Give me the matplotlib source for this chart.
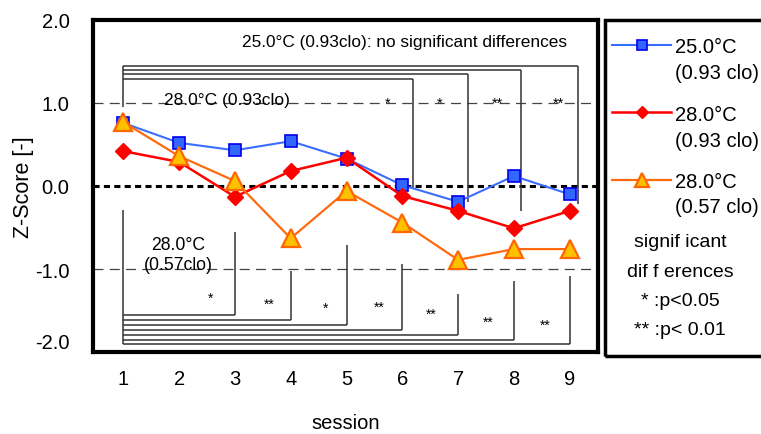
import matplotlib
matplotlib.use('Agg')
import matplotlib.pyplot as plt
from matplotlib.patches import Rectangle
from matplotlib.transforms import offset_copy

plt.rcParams['font.family'] = ['Liberation Sans', 'DejaVu Sans']

sessions = [1, 2, 3, 4, 5, 6, 7, 8, 9]
z_25_093 = [0.76, 0.52, 0.43, 0.54, 0.33, 0.01, -0.19, 0.12, -0.10]
z_28_093 = [0.42, 0.29, -0.13, 0.18, 0.34, -0.12, -0.30, -0.51, -0.30]
z_28_057 = [0.77, 0.36, 0.06, -0.63, -0.06, -0.44, -0.89, -0.76, -0.76]

# significance brackets, 28.0C (0.93clo) vs session 1 (top)
top_level = [1.45, 1.40, 1.35, 1.29]
top_end = [9.15, 8.13, 7.18, 6.19]
top_drop = [-0.22, -0.30, -0.19, -0.03]
top_star_x = [5.74, 6.66, 7.70, 8.79]
top_star = ['*', '*', '**', '**']

# significance brackets, 28.0C (0.57clo) vs session 1 (bottom)
bot_level = [-1.56, -1.62, -1.68, -1.74, -1.80, -1.85, -1.90]
bot_end = [3, 4, 5, 6, 7, 8, 9]
bot_top = [-0.56, -1.02, -0.71, -0.94, -1.30, -1.14, -1.09]
bot_star_x = [2.57, 3.61, 4.63, 5.59, 6.51, 7.54, 8.56]
bot_star_y = [-1.40, -1.47, -1.51, -1.50, -1.59, -1.68, -1.72]
bot_star = ['*', '**', '*', '**', '**', '**', '**']

fig = plt.figure(figsize=(7.61, 4.35), dpi=100)
ax = fig.add_axes([93/761, 1-353/435, 505/761, 332/435])

ax.axhline(1, color='#444444', lw=0.9, dashes=(8, 5), zorder=1)
ax.axhline(-1, color='#444444', lw=0.9, dashes=(8, 5), zorder=1)
ax.axhline(0, color='black', lw=2.2, dashes=(2, 1.4), zorder=1)

bc = '#333333'
# top brackets
ax.vlines(1, 0.95, max(top_level), color=bc, lw=1.1)
for lv, xe, yd in zip(top_level, top_end, top_drop):
    ax.hlines(lv, 1, xe, color=bc, lw=1.1)
    ax.vlines(xe, yd, lv, color=bc, lw=1.1)
for x, s in zip(top_star_x, top_star):
    ax.text(x, 0.96, s, ha='center', va='baseline', fontsize=10.5)

# bottom brackets
ax.vlines(1, min(bot_level), -0.29, color=bc, lw=1.1)
for lv, xe, yt in zip(bot_level, bot_end, bot_top):
    ax.hlines(lv, 1, xe, color=bc, lw=1.1)
    ax.vlines(xe, lv, yt, color=bc, lw=1.1)
for x, y, s in zip(bot_star_x, bot_star_y, bot_star):
    ax.text(x, y, s, ha='center', va='baseline', fontsize=10)

l1, = ax.plot(sessions, z_25_093, color='#3A6EFF', lw=1.5, marker='s', ms=8.5,
              mfc='#3366FF', mec='#0000EE', mew=1.2, zorder=3)
l2, = ax.plot(sessions, z_28_093, color='#FF0000', lw=1.8, marker='D', ms=8,
              mfc='#FF0000', mec='#FF0000', zorder=4)
l3, = ax.plot(sessions, z_28_057, color='#FF6A10', lw=1.6, marker='^', ms=13,
              mfc='#FFC000', mec='#FF6600', mew=1.6, zorder=5)

ax.text(3.13, 1.69, '25.0°C (0.93clo): no significant differences', fontsize=12.4,
        ha='left', va='baseline')
ax.text(1.73, 0.99, '28.0°C (0.93clo)', fontsize=12.5, ha='left', va='baseline')
ax.text(1.98, -0.76, '28.0°C', fontsize=12.7, ha='center', va='baseline')
ax.text(1.98, -0.995, '(0.57clo)', fontsize=12.7, ha='center', va='baseline')

ax.set_xlim(0.457, 9.507)
ax.set_ylim(-2, 2)
ax.set_xticks(sessions)
ax.set_yticks([-2, -1, 0, 1, 2])
ax.set_yticklabels(['-2.0', '-1.0', '0.0', '1.0', '2.0'])
ax.tick_params(axis='both', length=0, labelsize=14.5)
ax.tick_params(axis='y', pad=17)
ax.tick_params(axis='x', pad=12)
for sp in ax.spines.values():
    sp.set_linewidth(3)
ax.set_xlabel('session', fontsize=14.5, labelpad=18)
ax.set_ylabel('Z-Score [-]', fontsize=15.5, labelpad=1)
# bottom y label sits a little higher, as in the original
lab = ax.get_yticklabels()[0]
lab.set_transform(offset_copy(lab.get_transform(), fig=fig, y=11, units='dots'))

# legend panel
fig.patches.append(Rectangle((605/761, 1-357/435), 0.25, 336/435, transform=fig.transFigure,
                             fill=False, lw=2.5, ec='black'))
leg = fig.legend([l1, l2, l3], ['25.0°C', '28.0°C', '28.0°C'], loc='upper left',
                 bbox_to_anchor=(612/761, 1-38/435), frameon=False, fontsize=14.5,
                 handlelength=2.93, handletextpad=0.2, labelspacing=2.41,
                 borderpad=0, borderaxespad=0, numpoints=1, markerscale=0.8)
for txt, yb in [('(0.93 clo)', 79), ('(0.93 clo)', 146.7), ('(0.57 clo)', 212.7)]:
    fig.text(675/761, 1-yb/435, txt, fontsize=14.5, ha='left', va='baseline')
for txt, yb in [('signif icant', 247.3), ('dif f erences', 276.7),
                ('* :p<0.05', 306), ('** :p< 0.01', 335)]:
    fig.text(680/761, 1-yb/435, txt, fontsize=14, ha='center', va='baseline')

fig.savefig('out.png', dpi=100)
